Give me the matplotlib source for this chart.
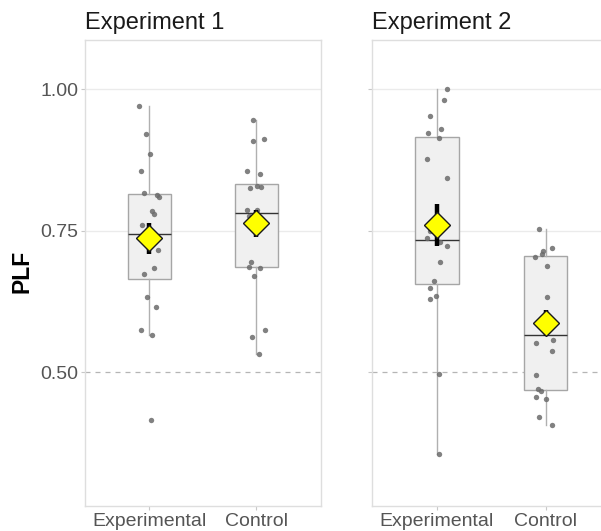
import matplotlib
matplotlib.use("Agg")
import matplotlib.pyplot as plt
import numpy as np

plt.rcParams['font.family'] = ['Liberation Sans', 'DejaVu Sans']

# datos
grupos = ['Experimental', 'Control']
titulos = ['Experiment 1', 'Experiment 2']

# experimento 1 - puntos (valor, desplazamiento jitter)
e1_exp = [0.970, 0.921, 0.886, 0.856, 0.817, 0.813, 0.809, 0.784, 0.780, 0.760,
          0.715, 0.684, 0.674, 0.632, 0.615, 0.574, 0.565, 0.415]
e1_exp_j = [-0.10, -0.03, 0.01, -0.08, -0.05, 0.07, 0.09, 0.03, 0.04, -0.07,
            0.08, 0.04, -0.05, -0.02, 0.06, -0.08, 0.03, 0.02]
e1_con = [0.945, 0.909, 0.912, 0.856, 0.849, 0.825, 0.829, 0.827, 0.787, 0.786,
          0.776, 0.695, 0.686, 0.684, 0.670, 0.574, 0.562, 0.531]
e1_con_j = [-0.03, -0.03, 0.07, -0.09, 0.03, -0.06, 0.01, 0.04, -0.09, 0.01,
            -0.07, -0.05, -0.07, 0.03, -0.02, 0.08, -0.04, 0.02]
# experimento 2
e2_exp = [1.000, 0.981, 0.953, 0.929, 0.922, 0.913, 0.877, 0.842, 0.749, 0.737,
          0.729, 0.723, 0.694, 0.660, 0.648, 0.629, 0.634, 0.496, 0.355]
e2_exp_j = [0.09, 0.07, -0.06, 0.04, -0.08, 0.02, -0.09, 0.09, -0.06, -0.09,
            0.03, 0.09, 0.03, -0.03, -0.06, -0.06, -0.01, 0.02, 0.02]
e2_con = [0.752, 0.719, 0.713, 0.709, 0.703, 0.687, 0.633, 0.551, 0.557, 0.538,
          0.495, 0.470, 0.466, 0.456, 0.453, 0.420, 0.407]
e2_con_j = [-0.06, 0.06, -0.02, -0.03, -0.10, 0.01, 0.01, -0.09, 0.07, 0.06,
            -0.09, -0.07, -0.04, -0.09, 0.00, -0.06, 0.06]

# estadisticos de caja [exp1 exp, exp1 con, exp2 exp, exp2 con]
q1 = [0.664, 0.686, 0.656, 0.469]
med = [0.744, 0.781, 0.733, 0.565]
q3 = [0.814, 0.833, 0.915, 0.705]
whislo = [0.565, 0.531, 0.355, 0.407]
whishi = [0.970, 0.945, 1.000, 0.752]
# media e intervalo
media = [0.736, 0.764, 0.760, 0.586]
ci_lo = [0.708, 0.739, 0.723, 0.563]
ci_hi = [0.764, 0.787, 0.796, 0.610]

puntos = [[(e1_exp, e1_exp_j), (e1_con, e1_con_j)],
          [(e2_exp, e2_exp_j), (e2_con, e2_con_j)]]

fig = plt.figure(figsize=(6.01, 5.31), dpi=100)
W, H = 601.0, 531.0
ax1 = fig.add_axes([85 / W, (H - 505.7) / H, 235.7 / W, 465.7 / H])
ax2 = fig.add_axes([371.7 / W, (H - 505.7) / H, 239 / W, 465.7 / H])
axs = [ax1, ax2]

for k, ax in enumerate(axs):
    ax.set_xlim(0.4, 2.6)
    ax.set_ylim(0.2638, 1.0866)
    for v in [0.75, 1.0]:
        ax.axhline(v, color='#ebebeb', lw=1.0, zorder=0)
    ax.axhline(0.5, color='#b5b5b5', lw=0.9, ls=(0, (4, 4)), zorder=0.5)
    stats = []
    for i in range(2):
        j = 2 * k + i
        stats.append(dict(q1=q1[j], med=med[j], q3=q3[j], whislo=whislo[j],
                          whishi=whishi[j], fliers=[]))
    ax.bxp(stats, positions=[1, 2], widths=0.4, patch_artist=True, showcaps=False,
           showfliers=False,
           boxprops=dict(facecolor='#f0f0f0', edgecolor='#a6a6a6', lw=1.0),
           medianprops=dict(color='#333333', lw=1.0),
           whiskerprops=dict(color='#b0b0b0', lw=1.0), zorder=1)
    for i in range(2):
        vals, jit = puntos[k][i]
        ax.scatter(np.array(jit) + i + 1, vals, s=15, color='#6b6b6b', alpha=0.85,
                   linewidths=0, zorder=2)
        j = 2 * k + i
        ax.plot([i + 1, i + 1], [ci_lo[j], ci_hi[j]], color='black', lw=3.2,
                solid_capstyle='butt', zorder=3)
        ax.plot(i + 1, media[j], marker='D', ms=13.5, mfc='#ffff00', mec='#1a1a1a',
                mew=1.0, zorder=4)
    ax.set_xticks([1, 2])
    ax.set_xticklabels(grupos)
    ax.set_yticks([0.5, 0.75, 1.0])
    ax.tick_params(length=3, color='#c8c8c8', labelcolor='#555555', labelsize=14, pad=2)
    for s in ax.spines.values():
        s.set_color('#dedede')
        s.set_linewidth(1.0)
    ax.set_title(titulos[k], loc='left', fontsize=17, pad=8, color='#1a1a1a')

ax1.set_yticklabels(['0.50', '0.75', '1.00'])
ax2.set_yticklabels([])
# etiqueta eje y
fig.text(22.5 / W, 1 - 271 / H, 'PLF', rotation=90, ha='center', va='center',
         fontsize=16.5, fontweight='bold')

fig.savefig('out.png', dpi=100)
